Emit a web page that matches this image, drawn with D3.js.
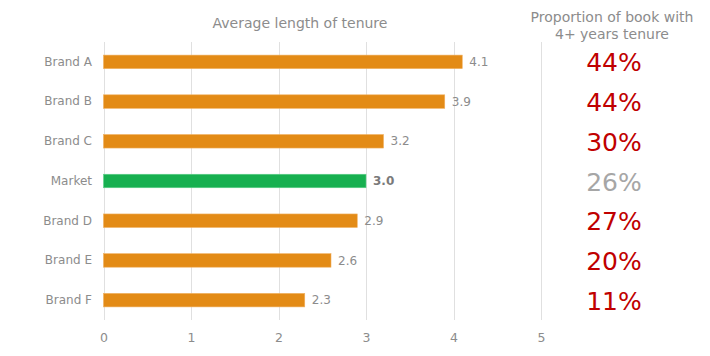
<!DOCTYPE html>
<html><head><meta charset="utf-8">
<script src="https://cdn.jsdelivr.net/npm/d3@7"></script>
<style>body{margin:0;background:#fff}svg{display:block;font-family:"DejaVu Sans",Verdana,sans-serif}</style>
</head><body>
<svg id="c" width="710" height="356"></svg>
<script>
const categories = ["Brand A","Brand B","Brand C","Market","Brand D","Brand E","Brand F"];
const tenure = [4.1,3.9,3.2,3.0,2.9,2.6,2.3];
const proportion = ["44%","44%","30%","26%","27%","20%","11%"];
const ticks = [0,1,2,3,4,5];
const highlight = "Market";

const svg = d3.select("#c");
const x = d3.scaleLinear().domain([0,5]).range([103.5,541]);
const y = d3.scaleBand().domain(categories).range([42,320]).paddingInner(0.66).paddingOuter(0.33);

// gridlines
svg.append("g").selectAll("line").data(ticks).join("line")
  .attr("x1",d=>Math.round(x(d))+0.5).attr("x2",d=>Math.round(x(d))+0.5)
  .attr("y1",42).attr("y2",320).attr("stroke","#e0e0e0").attr("stroke-width",1);

// x axis labels
const xa = svg.append("g").attr("transform","translate(0,320)")
  .call(d3.axisBottom(x).tickValues(ticks).tickSize(0).tickPadding(13).tickFormat(d3.format("d")));
xa.select(".domain").remove();
xa.selectAll("text").attr("fill","#8c8c8c").attr("font-size",12.5).attr("font-family","DejaVu Sans, Verdana, sans-serif");

// y axis labels
const ya = svg.append("g").attr("transform","translate(92,0)")
  .call(d3.axisLeft(y).tickSize(0).tickPadding(0));
ya.select(".domain").remove();
ya.selectAll("text").attr("fill","#8c8c8c").attr("font-size",12).attr("font-family","DejaVu Sans, Verdana, sans-serif");

// bars
svg.append("g").selectAll("rect").data(categories).join("rect")
  .attr("x",x(0)).attr("y",d=>y(d))
  .attr("width",(d,i)=>x(tenure[i])-x(0)).attr("height",y.bandwidth())
  .attr("fill",d=>d===highlight?"#17b050":"#e38b16")
  .attr("stroke",d=>d===highlight?"#5fd08a":"#f0b060").attr("stroke-width",0.6);

// value labels
svg.append("g").selectAll("text").data(categories).join("text")
  .attr("x",(d,i)=>x(tenure[i])+7).attr("y",d=>y(d)+y.bandwidth()/2)
  .attr("dy","0.35em").attr("font-size",12)
  .attr("font-weight",d=>d===highlight?"bold":"normal")
  .attr("fill",d=>d===highlight?"#7a7a7a":"#8c8c8c")
  .text((d,i)=>tenure[i].toFixed(1));

// proportion column
svg.append("g").selectAll("text").data(categories).join("text")
  .attr("x",614).attr("y",d=>y(d)+y.bandwidth()/2)
  .attr("dy","0.38em").attr("text-anchor","middle").attr("font-size",25)
  .attr("fill",d=>d===highlight?"#a6a6a6":"#c00000")
  .text((d,i)=>proportion[i]);

// titles
svg.append("text").attr("x",300).attr("y",28).attr("text-anchor","middle")
  .attr("font-size",14).attr("fill","#8c8c8c").text("Average length of tenure");
svg.append("text").attr("x",612).attr("y",22).attr("text-anchor","middle")
  .attr("font-size",14).attr("fill","#8c8c8c").text("Proportion of book with");
svg.append("text").attr("x",612).attr("y",39).attr("text-anchor","middle")
  .attr("font-size",14).attr("fill","#8c8c8c").text("4+ years tenure");
</script>
</body></html>
